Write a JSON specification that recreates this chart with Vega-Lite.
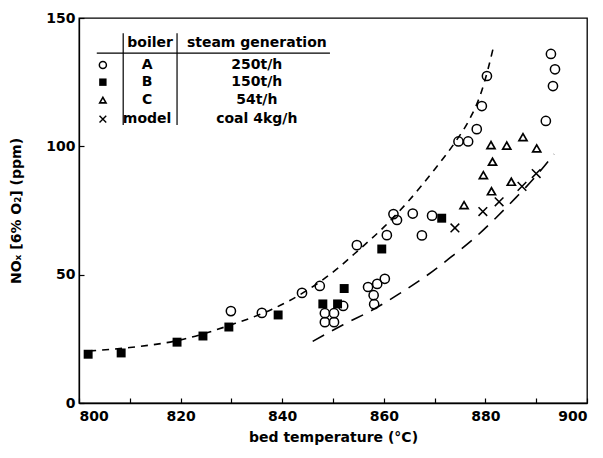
{
  "$schema": "https://vega.github.io/schema/vega-lite/v6.json",
  "autosize": {"type": "none"},
  "padding": {"left": 79, "top": 18, "right": 16, "bottom": 55},
  "width": 508,
  "height": 385,
  "background": "white",
  "config": {
    "view": {"stroke": "black", "strokeWidth": 1.3},
    "font": "DejaVu Sans",
    "text": {"font": "DejaVu Sans", "fontSize": 14, "fontWeight": "bold", "color": "black"},
    "axis": {
      "grid": false,
      "domainColor": "black",
      "domainWidth": 1.3,
      "tickColor": "black",
      "tickWidth": 1.2,
      "labelColor": "black",
      "titleColor": "black",
      "labelFont": "DejaVu Sans",
      "titleFont": "DejaVu Sans",
      "labelFontSize": 14,
      "labelFontWeight": "bold",
      "titleFontSize": 14,
      "titleFontWeight": "bold"
    }
  },
  "datasets": {
    "obs": [
      {"series": "A", "t": 829.9, "nox": 35.8},
      {"series": "A", "t": 836.0, "nox": 35.1},
      {"series": "A", "t": 843.9, "nox": 42.9},
      {"series": "A", "t": 847.4, "nox": 45.6},
      {"series": "A", "t": 848.4, "nox": 35.0},
      {"series": "A", "t": 850.2, "nox": 35.0},
      {"series": "A", "t": 848.4, "nox": 31.5},
      {"series": "A", "t": 850.2, "nox": 31.5},
      {"series": "A", "t": 852.0, "nox": 37.8},
      {"series": "A", "t": 854.7, "nox": 61.5},
      {"series": "A", "t": 856.9, "nox": 45.2},
      {"series": "A", "t": 858.7, "nox": 46.4},
      {"series": "A", "t": 860.2, "nox": 48.4},
      {"series": "A", "t": 858.0, "nox": 42.0},
      {"series": "A", "t": 858.1, "nox": 38.5},
      {"series": "A", "t": 860.6, "nox": 65.4},
      {"series": "A", "t": 861.9, "nox": 73.6},
      {"series": "A", "t": 862.6, "nox": 71.3},
      {"series": "A", "t": 865.7, "nox": 73.8},
      {"series": "A", "t": 867.5, "nox": 65.3},
      {"series": "A", "t": 869.5, "nox": 73.0},
      {"series": "A", "t": 874.7, "nox": 101.9},
      {"series": "A", "t": 876.6, "nox": 101.9},
      {"series": "A", "t": 878.3, "nox": 106.7},
      {"series": "A", "t": 879.3, "nox": 115.7},
      {"series": "A", "t": 880.3, "nox": 127.4},
      {"series": "A", "t": 891.9, "nox": 109.9},
      {"series": "A", "t": 893.3, "nox": 123.5},
      {"series": "A", "t": 893.7, "nox": 130.0},
      {"series": "A", "t": 892.9, "nox": 136.0},
      {"series": "B", "t": 801.8, "nox": 19.0},
      {"series": "B", "t": 808.3, "nox": 19.5},
      {"series": "B", "t": 819.3, "nox": 23.7},
      {"series": "B", "t": 824.4, "nox": 26.1},
      {"series": "B", "t": 829.5, "nox": 29.6},
      {"series": "B", "t": 839.2, "nox": 34.3},
      {"series": "B", "t": 848.0, "nox": 38.6},
      {"series": "B", "t": 850.9, "nox": 38.6},
      {"series": "B", "t": 852.2, "nox": 44.6},
      {"series": "B", "t": 859.6, "nox": 60.0},
      {"series": "B", "t": 871.4, "nox": 72.0},
      {"series": "C", "t": 875.8, "nox": 77.1},
      {"series": "C", "t": 881.2, "nox": 82.5},
      {"series": "C", "t": 879.6, "nox": 88.8},
      {"series": "C", "t": 881.4, "nox": 94.0},
      {"series": "C", "t": 885.1, "nox": 86.2},
      {"series": "C", "t": 881.1, "nox": 100.5},
      {"series": "C", "t": 884.2, "nox": 100.3},
      {"series": "C", "t": 887.4, "nox": 103.6},
      {"series": "C", "t": 890.1, "nox": 99.2},
      {"series": "model", "t": 874.0, "nox": 68.2},
      {"series": "model", "t": 879.5, "nox": 74.6},
      {"series": "model", "t": 882.7, "nox": 78.4},
      {"series": "model", "t": 887.2, "nox": 84.4},
      {"series": "model", "t": 890.0, "nox": 89.4}
    ],
    "curves": [
      {"curve": "upper", "t": 802, "nox": 20.3},
      {"curve": "upper", "t": 810, "nox": 21.6},
      {"curve": "upper", "t": 820, "nox": 24.6},
      {"curve": "upper", "t": 830, "nox": 30.5},
      {"curve": "upper", "t": 838, "nox": 36.5},
      {"curve": "upper", "t": 845, "nox": 44.0},
      {"curve": "upper", "t": 850, "nox": 51.0},
      {"curve": "upper", "t": 855, "nox": 59.5},
      {"curve": "upper", "t": 860, "nox": 68.5},
      {"curve": "upper", "t": 865, "nox": 79.0},
      {"curve": "upper", "t": 870, "nox": 91.0},
      {"curve": "upper", "t": 874, "nox": 101.5},
      {"curve": "upper", "t": 877, "nox": 111.0},
      {"curve": "upper", "t": 879, "nox": 120.0},
      {"curve": "upper", "t": 880.5, "nox": 130.0},
      {"curve": "upper", "t": 881.5, "nox": 138.0},
      {"curve": "lower", "t": 846, "nox": 24.0},
      {"curve": "lower", "t": 852, "nox": 30.5},
      {"curve": "lower", "t": 858, "nox": 36.5},
      {"curve": "lower", "t": 863, "nox": 42.5},
      {"curve": "lower", "t": 868, "nox": 49.0},
      {"curve": "lower", "t": 873, "nox": 56.5},
      {"curve": "lower", "t": 878, "nox": 64.5},
      {"curve": "lower", "t": 882, "nox": 72.0},
      {"curve": "lower", "t": 886, "nox": 80.0},
      {"curve": "lower", "t": 890, "nox": 88.5},
      {"curve": "lower", "t": 893.5, "nox": 97.0}
    ],
    "table": [
      {"series": "A", "boiler": "A", "steam": "250t/h"},
      {"series": "B", "boiler": "B", "steam": "150t/h"},
      {"series": "C", "boiler": "C", "steam": "54t/h"},
      {"series": "model", "boiler": "model", "steam": "coal 4kg/h"}
    ]
  },
  "layer": [
    {
      "data": {"name": "curves"},
      "transform": [{"filter": "datum.curve === 'upper'"}],
      "mark": {"type": "line", "color": "black", "strokeWidth": 1.6, "strokeDash": [7, 6], "interpolate": "monotone"},
      "encoding": {
        "x": {
          "field": "t", "type": "quantitative",
          "scale": {"domain": [800, 900], "nice": false, "zero": false},
          "axis": {
            "title": "bed temperature  (°C)",
            "values": [800, 810, 820, 830, 840, 850, 860, 870, 880, 890, 900],
            "labelExpr": "datum.value % 20 === 0 ? datum.label : ''",
            "tickSize": -5,
            "labelPadding": 11,
            "titlePadding": 7
          }
        },
        "y": {
          "field": "nox", "type": "quantitative",
          "scale": {"domain": [0, 150], "nice": false},
          "axis": {
            "title": "NOₓ [6% O₂]  (ppm)",
            "values": [0, 50, 100, 150],
            "tickSize": -5,
            "labelPadding": 9,
            "titlePadding": 22
          }
        }
      }
    },
    {
      "data": {"name": "curves"},
      "transform": [{"filter": "datum.curve === 'lower'"}],
      "mark": {"type": "line", "color": "black", "strokeWidth": 1.6, "strokeDash": [13, 9], "interpolate": "monotone"},
      "encoding": {"x": {"field": "t", "type": "quantitative"}, "y": {"field": "nox", "type": "quantitative"}}
    },
    {
      "data": {"name": "obs"},
      "transform": [{"filter": "datum.series === 'A'"}],
      "mark": {"type": "point", "shape": "circle", "filled": false, "color": "black", "strokeWidth": 1.5, "size": 85, "opacity": 1},
      "encoding": {"x": {"field": "t", "type": "quantitative"}, "y": {"field": "nox", "type": "quantitative"}}
    },
    {
      "data": {"name": "obs"},
      "transform": [{"filter": "datum.series === 'B'"}],
      "mark": {"type": "point", "shape": "square", "filled": true, "color": "black", "size": 80, "opacity": 1},
      "encoding": {"x": {"field": "t", "type": "quantitative"}, "y": {"field": "nox", "type": "quantitative"}}
    },
    {
      "data": {"name": "obs"},
      "transform": [{"filter": "datum.series === 'C'"}],
      "mark": {"type": "point", "shape": "triangle-up", "filled": false, "color": "black", "strokeWidth": 1.7, "size": 65, "opacity": 1},
      "encoding": {"x": {"field": "t", "type": "quantitative"}, "y": {"field": "nox", "type": "quantitative"}}
    },
    {
      "data": {"name": "obs"},
      "transform": [{"filter": "datum.series === 'model'"}],
      "mark": {"type": "point", "shape": "M-1,-1L1,1M-1,1L1,-1", "filled": false, "color": "black", "strokeWidth": 1.5, "size": 75, "opacity": 1},
      "encoding": {"x": {"field": "t", "type": "quantitative"}, "y": {"field": "nox", "type": "quantitative"}}
    },
    {
      "data": {"values": [{"k": 1}]},
      "mark": {"type": "rule", "color": "black", "strokeWidth": 1.2},
      "encoding": {"x": {"datum": 803.5}, "x2": {"datum": 849.4}, "y": {"datum": 136.3}}
    },
    {
      "data": {"values": [{"k": 1}]},
      "mark": {"type": "rule", "color": "black", "strokeWidth": 1.2},
      "encoding": {"x": {"datum": 808.7}, "y": {"datum": 144.1}, "y2": {"datum": 108.3}}
    },
    {
      "data": {"values": [{"k": 1}]},
      "mark": {"type": "rule", "color": "black", "strokeWidth": 1.2},
      "encoding": {"x": {"datum": 819.3}, "y": {"datum": 144.1}, "y2": {"datum": 108.3}}
    },
    {
      "data": {"values": [{"h": "boiler"}]},
      "mark": {"type": "text"},
      "encoding": {"x": {"datum": 814}, "y": {"datum": 140.2}, "text": {"field": "h"}}
    },
    {
      "data": {"values": [{"h": "steam generation"}]},
      "mark": {"type": "text"},
      "encoding": {"x": {"datum": 835}, "y": {"datum": 140.2}, "text": {"field": "h"}}
    },
    {
      "data": {"name": "table"},
      "transform": [{"filter": "datum.series === 'A'"}],
      "layer": [
        {"mark": {"type": "point", "shape": "circle", "filled": false, "color": "black", "strokeWidth": 1.5, "size": 50, "opacity": 1},
         "encoding": {"x": {"datum": 804.7}, "y": {"datum": 131.7}}},
        {"mark": {"type": "text"}, "encoding": {"x": {"datum": 813.4}, "y": {"datum": 131.7}, "text": {"field": "boiler"}}},
        {"mark": {"type": "text"}, "encoding": {"x": {"datum": 835}, "y": {"datum": 131.7}, "text": {"field": "steam"}}}
      ]
    },
    {
      "data": {"name": "table"},
      "transform": [{"filter": "datum.series === 'B'"}],
      "layer": [
        {"mark": {"type": "point", "shape": "square", "filled": true, "color": "black", "size": 55, "opacity": 1},
         "encoding": {"x": {"datum": 804.7}, "y": {"datum": 125.0}}},
        {"mark": {"type": "text"}, "encoding": {"x": {"datum": 813.4}, "y": {"datum": 125.0}, "text": {"field": "boiler"}}},
        {"mark": {"type": "text"}, "encoding": {"x": {"datum": 835}, "y": {"datum": 125.0}, "text": {"field": "steam"}}}
      ]
    },
    {
      "data": {"name": "table"},
      "transform": [{"filter": "datum.series === 'C'"}],
      "layer": [
        {"mark": {"type": "point", "shape": "triangle-up", "filled": false, "color": "black", "strokeWidth": 1.6, "size": 40, "opacity": 1},
         "encoding": {"x": {"datum": 804.7}, "y": {"datum": 118.0}}},
        {"mark": {"type": "text"}, "encoding": {"x": {"datum": 813.4}, "y": {"datum": 118.0}, "text": {"field": "boiler"}}},
        {"mark": {"type": "text"}, "encoding": {"x": {"datum": 835}, "y": {"datum": 118.0}, "text": {"field": "steam"}}}
      ]
    },
    {
      "data": {"name": "table"},
      "transform": [{"filter": "datum.series === 'model'"}],
      "layer": [
        {"mark": {"type": "point", "shape": "M-1,-1L1,1M-1,1L1,-1", "filled": false, "color": "black", "strokeWidth": 1.4, "size": 45, "opacity": 1},
         "encoding": {"x": {"datum": 804.7}, "y": {"datum": 110.6}}},
        {"mark": {"type": "text"}, "encoding": {"x": {"datum": 813.4}, "y": {"datum": 110.6}, "text": {"field": "boiler"}}},
        {"mark": {"type": "text"}, "encoding": {"x": {"datum": 835}, "y": {"datum": 110.6}, "text": {"field": "steam"}}}
      ]
    }
  ]
}
